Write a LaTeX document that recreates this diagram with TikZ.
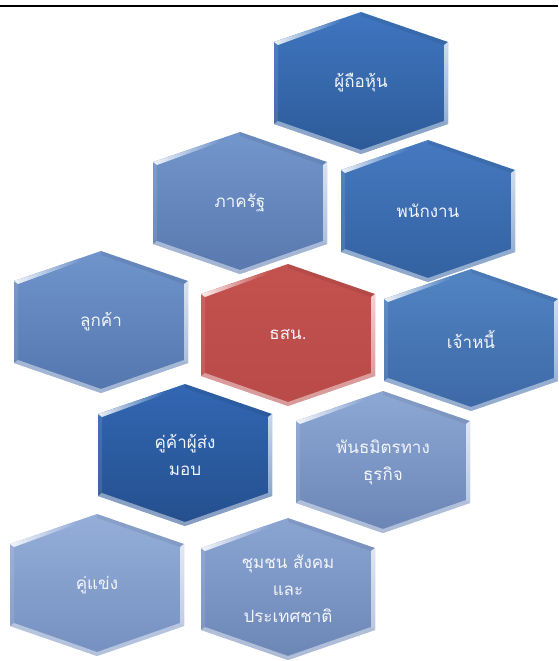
\documentclass[tikz,border=0pt]{standalone}
\usepackage{fontspec}
\newfontfamily\thaifont[Script=Thai]{Loma}
\definecolor{hA}{HTML}{3F76C0}\definecolor{hAb}{HTML}{2D5A98}
\definecolor{hB}{HTML}{7396CC}\definecolor{hBb}{HTML}{5878AE}
\definecolor{hC}{HTML}{4579C0}\definecolor{hCb}{HTML}{3361A0}
\definecolor{hD}{HTML}{7094CC}\definecolor{hDb}{HTML}{5476AE}
\definecolor{hE}{HTML}{C4524F}\definecolor{hEb}{HTML}{B84A47}
\definecolor{hF}{HTML}{5284C4}\definecolor{hFb}{HTML}{3D68A6}
\definecolor{hG}{HTML}{3267B2}\definecolor{hGb}{HTML}{244F8E}
\definecolor{hH}{HTML}{8EA8D5}\definecolor{hHb}{HTML}{6A85B5}
\definecolor{hI}{HTML}{95AED9}\definecolor{hIb}{HTML}{7590C0}
\definecolor{hJ}{HTML}{8BA5D3}\definecolor{hJb}{HTML}{6B85B5}
\definecolor{labelcol}{HTML}{F2F5FA}
\tikzset{
  hexlabel/.style={text=labelcol, font=\thaifont\fontsize{17}{27}\selectfont, align=center, inner sep=0pt},
  topline/.style={line width=2.5pt, black}
}
\newcommand{\hexcell}[6]{%
  \begin{scope}[shift={(#2,#3)}]
    \shade[top color=#4, bottom color=#5] (0,-71) -- (87,-41) -- (87,41) -- (0,71) -- (-87,41) -- (-87,-41) -- cycle;
    % bevel strips
    \shade[left color=white, right color=#4, opacity=0.9] (-87,-41) -- (-20,-64) -- (-20,-61) -- (-83,-38) -- cycle;
    \fill[black, opacity=0.07] (0,-71) -- (87,-41) -- (83,-38) -- (0,-67) -- cycle;
    \shade[top color=white, bottom color=#4!40!white, opacity=0.75] (87,-41) -- (87,41) -- (83,38) -- (83,-38) -- cycle;
    \fill[white, opacity=0.45] (87,41) -- (0,71) -- (0,67) -- (83,38) -- cycle;
    \fill[white, opacity=0.45] (0,71) -- (-87,41) -- (-83,38) -- (0,67) -- cycle;
    \fill[white, opacity=0.10] (-87,41) -- (-87,-41) -- (-83,-38) -- (-83,38) -- cycle;
    \node[hexlabel] (#1) at (0,0) {#6};
  \end{scope}}
\begin{document}
\begin{tikzpicture}[x=1pt,y=-1pt]
  \useasboundingbox (0,0) rectangle (558,661);
  \coordinate (lineL) at (0,6);
  \coordinate (lineR) at (558,6);
  \draw[topline] (lineL) -- (lineR);
  \hexcell{shareholders}{361}{83}{hA}{hAb}{ผู้ถือหุ้น}
  \hexcell{government}{240}{203}{hB}{hBb}{ภาครัฐ}
  \hexcell{employees}{428}{211}{hC}{hCb}{พนักงาน}
  \hexcell{customers}{101}{322}{hD}{hDb}{ลูกค้า}
  \hexcell{exim}{288}{335}{hE}{hEb}{ธสน.}
  \hexcell{creditors}{471}{340}{hF}{hFb}{เจ้าหนี้}
  \hexcell{suppliers}{185}{455}{hG}{hGb}{คู่ค้าผู้ส่ง\\มอบ}
  \hexcell{partners}{383}{462}{hH}{hHb}{พันธมิตรทาง\\ธุรกิจ}
  \hexcell{competitors}{97}{585}{hI}{hIb}{คู่แข่ง}
  \hexcell{community}{288}{589}{hJ}{hJb}{ชุมชน สังคม\\และ\\ประเทศชาติ}
\end{tikzpicture}
\end{document}
